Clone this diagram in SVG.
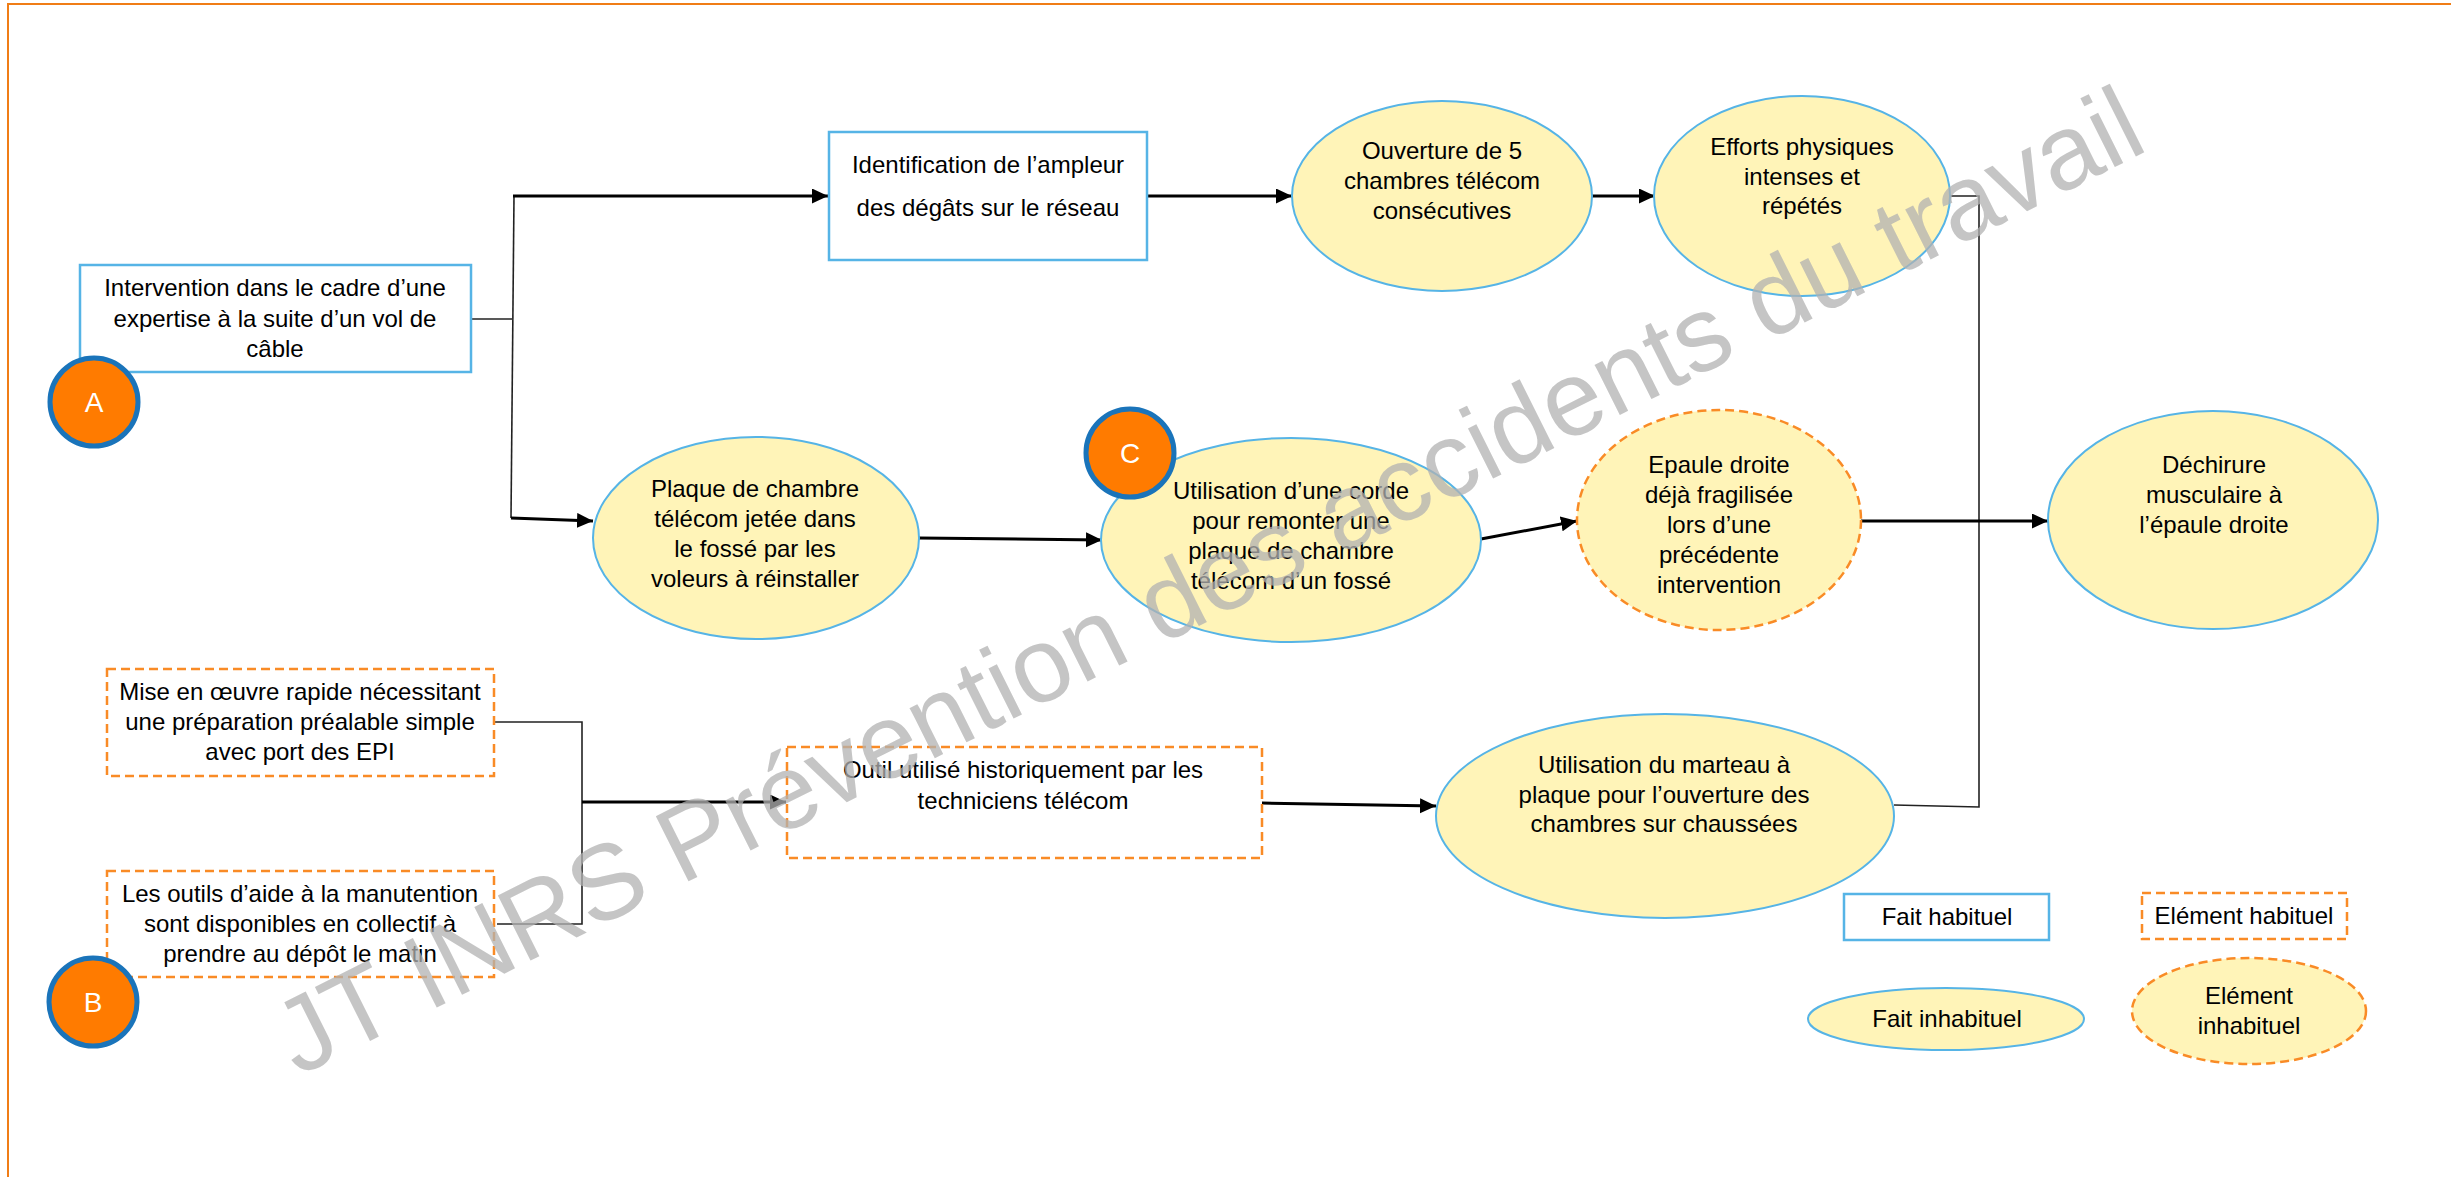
<svg xmlns="http://www.w3.org/2000/svg" width="2451" height="1177" viewBox="0 0 2451 1177">
<defs>
<marker id="arr" markerUnits="userSpaceOnUse" markerWidth="17" markerHeight="16" refX="16" refY="7.5" orient="auto">
<path d="M0,0 L16,7.5 L0,15 z" fill="#000"/>
</marker>
</defs>
<style>
.t{font-family:"Liberation Sans",Arial,sans-serif;font-size:24px;fill:#000;text-anchor:middle}
.fh{fill:#fff;stroke:#56B4E6;stroke-width:2.5}
.fi{fill:#FFF4B8;stroke:#56B4E6;stroke-width:2}
.eh{fill:#fff;stroke:#F98B26;stroke-width:2.5;stroke-dasharray:9 5}
.ei{fill:#FFF4B8;stroke:#F98B26;stroke-width:2.5;stroke-dasharray:9 5}
.thin{fill:none;stroke:#222;stroke-width:1.6}
.thick{fill:none;stroke:#000;stroke-width:3;marker-end:url(#arr)}
.badge circle{fill:#FF7B00;stroke:#1A74BA;stroke-width:5}
.badge text{font-family:"Liberation Sans",Arial,sans-serif;font-size:28px;fill:#fff;text-anchor:middle}
.wm{font-family:"Liberation Sans",Arial,sans-serif;font-size:106px;fill:#B2B2B2;fill-opacity:0.75}
</style>
<rect width="2451" height="1177" fill="#fff"/>
<path d="M8,1177 V4 H2451" fill="none" stroke="#F07D16" stroke-width="2"/>

<g id="connectors">
<path class="thin" d="M471,319 H512"/>
<path class="thin" d="M514,196 L511,518"/>
<path class="thick" d="M513,196 H828"/>
<path class="thick" d="M511,518 L593,521"/>
<path class="thick" d="M1147,196 H1292"/>
<path class="thick" d="M1592,196 H1655"/>
<path class="thin" d="M1950,196 H1979 V807 L1894,805"/>
<path class="thick" d="M919,538 L1102,540"/>
<path class="thick" d="M1481,539 L1577,521"/>
<path class="thick" d="M1861,521 H2048"/>
<path class="thin" d="M494,722 H582 V924 H497"/>
<path class="thick" d="M582,802 H786"/>
<path class="thick" d="M1262,803 L1436,806"/>
</g>

<g id="n-intervention">
<rect class="fh" x="80" y="265" width="391" height="107"/>
<text class="t"><tspan x="275" y="296">Intervention dans le cadre d’une</tspan><tspan x="275" y="327">expertise à la suite d’un vol de</tspan><tspan x="275" y="357">câble</tspan></text>
</g>
<g id="n-identification">
<rect class="fh" x="829" y="132" width="318" height="128"/>
<text class="t"><tspan x="988" y="173">Identification de l’ampleur</tspan><tspan x="988" y="216">des dégâts sur le réseau</tspan></text>
</g>
<g id="n-ouverture">
<ellipse class="fi" cx="1442" cy="196" rx="150" ry="95"/>
<text class="t"><tspan x="1442" y="159">Ouverture de 5</tspan><tspan x="1442" y="189">chambres télécom</tspan><tspan x="1442" y="219">consécutives</tspan></text>
</g>
<g id="n-efforts">
<ellipse class="fi" cx="1802" cy="196" rx="148" ry="100"/>
<text class="t"><tspan x="1802" y="155">Efforts physiques</tspan><tspan x="1802" y="185">intenses et</tspan><tspan x="1802" y="214">répétés</tspan></text>
</g>
<g id="n-plaque">
<ellipse class="fi" cx="756" cy="538" rx="163" ry="101"/>
<text class="t"><tspan x="755" y="497">Plaque de chambre</tspan><tspan x="755" y="527">télécom jetée dans</tspan><tspan x="755" y="557">le fossé par les</tspan><tspan x="755" y="587">voleurs à réinstaller</tspan></text>
</g>
<g id="n-corde">
<ellipse class="fi" cx="1291" cy="540" rx="190" ry="102"/>
<text class="t"><tspan x="1291" y="499">Utilisation d’une corde</tspan><tspan x="1291" y="529">pour remonter une</tspan><tspan x="1291" y="559">plaque de chambre</tspan><tspan x="1291" y="589">télécom d’un fossé</tspan></text>
</g>
<g id="n-epaule">
<ellipse class="ei" cx="1719" cy="520" rx="142" ry="110"/>
<text class="t"><tspan x="1719" y="473">Epaule droite</tspan><tspan x="1719" y="503">déjà fragilisée</tspan><tspan x="1719" y="533">lors d’une</tspan><tspan x="1719" y="563">précédente</tspan><tspan x="1719" y="593">intervention</tspan></text>
</g>
<g id="n-dechirure">
<ellipse class="fi" cx="2213" cy="520" rx="165" ry="109"/>
<text class="t"><tspan x="2214" y="473">Déchirure</tspan><tspan x="2214" y="503">musculaire à</tspan><tspan x="2214" y="533">l’épaule droite</tspan></text>
</g>
<g id="n-mise">
<rect class="eh" x="107" y="669" width="387" height="107"/>
<text class="t"><tspan x="300" y="700">Mise en œuvre rapide nécessitant</tspan><tspan x="300" y="730">une préparation préalable simple</tspan><tspan x="300" y="760">avec port des EPI</tspan></text>
</g>
<g id="n-outils">
<rect class="eh" x="107" y="871" width="387" height="106"/>
<text class="t"><tspan x="300" y="902">Les outils d’aide à la manutention</tspan><tspan x="300" y="932">sont disponibles en collectif à</tspan><tspan x="300" y="962">prendre au dépôt le matin</tspan></text>
</g>
<g id="n-outil-historique">
<rect class="eh" x="787" y="747" width="475" height="111"/>
<text class="t"><tspan x="1023" y="778">Outil utilisé historiquement par les</tspan><tspan x="1023" y="809">techniciens télécom</tspan></text>
</g>
<g id="n-marteau">
<ellipse class="fi" cx="1665" cy="816" rx="229" ry="102"/>
<text class="t"><tspan x="1664" y="773">Utilisation du marteau à</tspan><tspan x="1664" y="803">plaque pour l’ouverture des</tspan><tspan x="1664" y="832">chambres sur chaussées</tspan></text>
</g>

<g id="badge-a" class="badge"><circle cx="94" cy="402" r="44"/><text x="94" y="412">A</text></g>
<g id="badge-b" class="badge"><circle cx="93" cy="1002" r="44"/><text x="93" y="1012">B</text></g>
<g id="badge-c" class="badge"><circle cx="1130" cy="453" r="44"/><text x="1130" y="463">C</text></g>

<g id="legend-fait-habituel">
<rect class="fh" x="1844" y="894" width="205" height="46"/>
<text class="t" x="1947" y="925">Fait habituel</text>
</g>
<g id="legend-element-habituel">
<rect class="eh" x="2142" y="893" width="205" height="46"/>
<text class="t" x="2244" y="924">Elément habituel</text>
</g>
<g id="legend-fait-inhabituel">
<ellipse class="fi" cx="1946" cy="1019" rx="138" ry="31"/>
<text class="t" x="1947" y="1027">Fait inhabituel</text>
</g>
<g id="legend-element-inhabituel">
<ellipse class="ei" cx="2249" cy="1011" rx="117" ry="53"/>
<text class="t"><tspan x="2249" y="1004">Elément</tspan><tspan x="2249" y="1034">inhabituel</tspan></text>
</g>

<text class="wm" x="298" y="1077" transform="rotate(-26.6 298 1077)">JT INRS Prévention des accidents du travail</text>
</svg>
